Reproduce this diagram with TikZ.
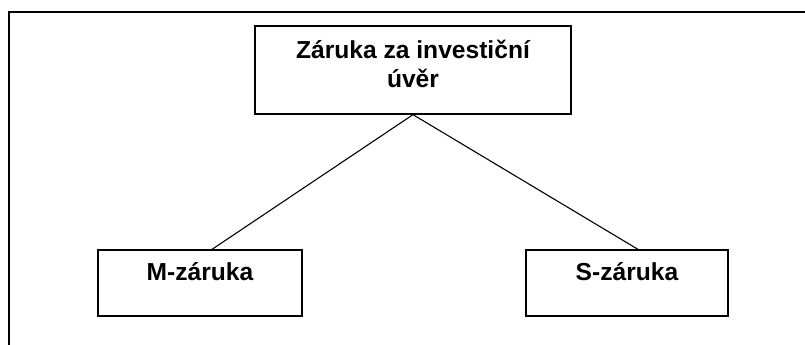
\documentclass[tikz,border=0pt]{standalone}
\usepackage{fontspec}
\setmainfont{Liberation Sans}
\begin{document}
\begin{tikzpicture}[x=1pt,y=-1pt,
  box/.style={draw=black, line width=1.3pt, minimum width=#1, inner sep=0pt, rectangle},
  lbl/.style={font=\fontsize{24.6}{28.3}\selectfont\bfseries, align=center, inner sep=0pt, anchor=base},
  conn/.style={draw=black, line width=1.1pt},
  frame/.style={draw=black, line width=1.8pt}]
\useasboundingbox (0,0) rectangle (805,345);
\draw[frame] (9,346) -- (9,12) -- (806,12);
% boxes
\node[box=316pt, minimum height=88pt] (top) at (413,70) {};
\node[box=204pt, minimum height=66pt] (left) at (200,283) {};
\node[box=202pt, minimum height=66pt] (right) at (627,283) {};
% texts
\node[lbl] (toptxt) at (413,87) {Záruka za investiční\\úvěr};
\node[lbl] (lefttxt) at (200,280) {M-záruka};
\node[lbl] (righttxt) at (627,280) {S-záruka};
% connectors
\draw[conn] (top.south) -- ([xshift=12pt]left.north);
\draw[conn] (top.south) -- ([xshift=11pt]right.north);
\end{tikzpicture}
\end{document}
